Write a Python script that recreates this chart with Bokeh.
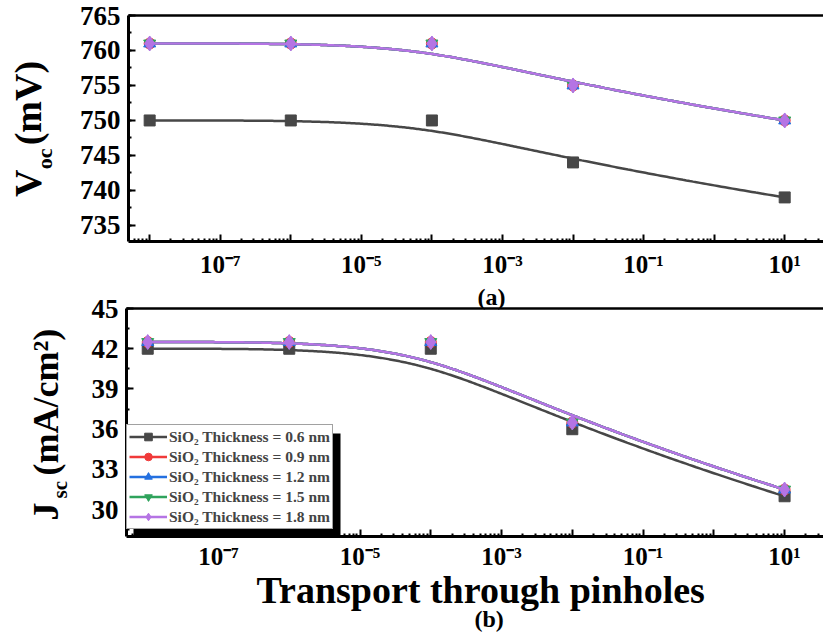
import numpy as np
from bokeh.plotting import figure
from bokeh.layouts import column, row
from bokeh.models import (Range1d, LogAxis, FixedTicker, SingleIntervalTicker,
                          CustomJSTickFormatter, Label, Legend, LegendItem,
                          BoxAnnotation, Title)
from bokeh.embed import file_html
from bokeh.resources import INLINE

# ---- data -------------------------------------------------------------
pinhole_transport = [1e-8, 1e-6, 1e-4, 1e-2, 1e1]
thickness_labels = ["SiO\u2082 Thickness = 0.6 nm", "SiO\u2082 Thickness = 0.9 nm",
                    "SiO\u2082 Thickness = 1.2 nm", "SiO\u2082 Thickness = 1.5 nm",
                    "SiO\u2082 Thickness = 1.8 nm"]
voc_06 = [750, 750, 750, 744, 739]
voc_09 = [761, 761, 761, 755, 750]
voc_12 = [761, 761, 761, 755, 750]
voc_15 = [761, 761, 761, 755, 750]
voc_18 = [761, 761, 761, 755, 750]
jsc_06 = [42.0, 42.0, 42.0, 36.0, 31.0]
jsc_09 = [42.5, 42.5, 42.5, 36.5, 31.5]
jsc_12 = [42.5, 42.5, 42.5, 36.5, 31.5]
jsc_15 = [42.5, 42.5, 42.5, 36.5, 31.5]
jsc_18 = [42.5, 42.5, 42.5, 36.5, 31.5]
label_ticks = [1e-7, 1e-5, 1e-3, 1e-1, 1e1]
label_texts = ["10\u207b\u2077", "10\u207b\u2075", "10\u207b\u00b3", "10\u207b\u00b9", "10\u00b9"]

colors = ["#474747", "#f03a3a", "#2470e0", "#2fa35c", "#b574e4"]
markers = ["square", "circle", "triangle", "inverted_triangle", "diamond"]
msizes = [11, 11, 12, 12, 15]
FONT = "Liberation Serif"
LABEL_W = 76                 # strip carrying the rotated y titles
TOP_H, BOT_H = 280, 357
TOP_BORDERS = (15, 37)       # (top, bottom) borders of panel (a)
BOT_BORDERS = (28, 101)      # (top, bottom) borders of panel (b)
FRAME_H = 228


def bspline(xs, ys, n=300):
    """Clamped cubic B-spline using the points as control polygon (log-x)."""
    P = np.column_stack([np.log10(xs), ys]).astype(float)
    m, k = len(P), 3
    inner = np.linspace(0, 1, m - k + 1)[1:-1]
    t = np.concatenate([[0] * (k + 1), inner, [1] * (k + 1)])
    u = np.linspace(0, 1, n)
    u[-1] = 1 - 1e-12

    def N(i, p, uu):
        if p == 0:
            return np.where((t[i] <= uu) & (uu < t[i + 1]), 1.0, 0.0)
        a = 0.0 if t[i + p] == t[i] else (uu - t[i]) / (t[i + p] - t[i]) * N(i, p - 1, uu)
        b = 0.0 if t[i + p + 1] == t[i + 1] else (t[i + p + 1] - uu) / (t[i + p + 1] - t[i + 1]) * N(i + 1, p - 1, uu)
        return a + b

    B = np.array([N(i, k, u) for i in range(m)])
    C = B.T @ P
    return 10 ** C[:, 0], C[:, 1]


decades = [10.0 ** e for e in range(-9, 3)]
minors = [m * d for d in decades for m in range(2, 10)]

x_fmt = CustomJSTickFormatter(args=dict(pos=label_ticks, lab=label_texts), code="""
    for (let i = 0; i < pos.length; i++) {
        if (Math.abs(Math.log10(tick) - Math.log10(pos[i])) < 1e-6) return lab[i];
    }
    return "";
""")


def title_strip(height, borders, parts):
    """Narrow blank plot whose frame lines up with the panel's frame; it holds
    a rotated, mixed-size axis title. Positions are px from the frame bottom."""
    s = figure(width=LABEL_W, height=height, x_range=Range1d(0, LABEL_W),
               y_range=Range1d(0, FRAME_H), x_axis_location=None, y_axis_location=None,
               output_backend="svg", toolbar_location=None,
               min_border_left=0, min_border_right=0,
               min_border_top=borders[0], min_border_bottom=borders[1])
    s.outline_line_color = None
    s.xgrid.visible = False
    s.ygrid.visible = False
    for txt, baseline_x, y, size in parts:
        s.add_layout(Label(x=baseline_x - 0.42 * size, y=y, text=txt, angle=np.pi / 2,
                           text_font=FONT, text_font_style="bold",
                           text_font_size=f"{size}px", text_color="black",
                           text_align="left", text_baseline="alphabetic"))
    return s


def side_title(p, txt, size, offset, where="below", standoff=0):
    p.add_layout(Title(text=txt, align="left", offset=offset, standoff=standoff,
                       text_font=FONT, text_font_style="bold", text_font_size=size,
                       text_color="black"), where)


def make_panel(height, borders, yrange, yinterval, series, with_legend, xstandoff):
    p = figure(width=823 - LABEL_W, height=height, x_axis_type="log",
               x_range=Range1d(10 ** -8.3, 10 ** 1.55), y_range=Range1d(*yrange),
               output_backend="svg", toolbar_location=None,
               min_border_left=126 - LABEL_W, min_border_right=0,
               min_border_top=borders[0], min_border_bottom=borders[1])
    p.outline_line_color = None
    p.xgrid.visible = False
    p.ygrid.visible = False

    for ax in (p.xaxis[0], p.yaxis[0]):
        ax.axis_line_width = 3
        ax.axis_line_color = "black"
        ax.major_tick_in = 7
        ax.major_tick_out = 0
        ax.minor_tick_in = 3
        ax.minor_tick_out = 0
        ax.major_tick_line_width = 2
        ax.minor_tick_line_width = 2
        ax.major_tick_line_color = "black"
        ax.minor_tick_line_color = "black"
        ax.major_label_text_font = FONT
        ax.major_label_text_font_style = "bold"
        ax.major_label_text_color = "black"

    p.xaxis[0].ticker = FixedTicker(ticks=decades, minor_ticks=minors)
    p.xaxis[0].formatter = x_fmt
    p.xaxis[0].major_label_text_font_size = "25px"
    p.xaxis[0].major_label_standoff = xstandoff
    p.yaxis[0].ticker = SingleIntervalTicker(interval=yinterval, num_minor_ticks=2)
    p.yaxis[0].major_label_text_font_size = "27px"
    p.yaxis[0].major_label_standoff = 8

    top_axis = LogAxis(ticker=FixedTicker(ticks=[]), axis_line_width=2.5,
                       axis_line_color="black", major_label_text_font_size="0px",
                       major_label_standoff=0,
                       major_tick_in=0, major_tick_out=0, minor_tick_in=0, minor_tick_out=0)
    p.add_layout(top_axis, "above")

    items = []
    for ys, c, mk, ms, lab in zip(series, colors, markers, msizes, thickness_labels):
        cx, cy = bspline(pinhole_transport, ys)
        lr = p.line(cx, cy, line_color=c, line_width=2.5)
        sr = p.scatter(pinhole_transport, ys, marker=mk, size=ms, fill_color=c, line_color=c)
        items.append(LegendItem(label=lab, renderers=[lr, sr]))

    if with_legend:
        shadow = BoxAnnotation(left=7, right=214, bottom=0, top=103,
                               left_units="screen", right_units="screen",
                               top_units="screen", bottom_units="screen",
                               fill_color="black", fill_alpha=1.0, line_color=None)
        p.add_layout(shadow)
        leg = Legend(items=items, location=(0, 7), margin=0, padding=2, spacing=1,
                     glyph_width=38, glyph_height=19, label_standoff=2,
                     label_text_font=FONT, label_text_font_style="bold",
                     label_text_font_size="15.5px", label_height=19,
                     border_line_color="#444444", border_line_width=1,
                     background_fill_color="white", background_fill_alpha=1.0)
        p.add_layout(leg, "center")
    return p


# (a) open-circuit voltage
top = make_panel(TOP_H, TOP_BORDERS, (732.7, 765), 5,
                 [voc_06, voc_09, voc_12, voc_15, voc_18], False, 9)
top_strip = title_strip(TOP_H, TOP_BORDERS, [("V", 43, 243 - 198, 38),
                                             ("oc", 53, 243 - 170, 22),
                                             ("(mV)", 43, 243 - 146, 38)])

# (b) short-circuit current density
bottom = make_panel(BOT_H, BOT_BORDERS, (28.0, 45), 3,
                    [jsc_06, jsc_09, jsc_12, jsc_15, jsc_18], True, 6)
side_title(bottom, "(a)", "24px", 351, where="above", standoff=-3)
side_title(bottom, "Transport through pinholes", "38px", 130, standoff=-11)
side_title(bottom, "(b)", "24px", 348, standoff=-4)
bot_strip = title_strip(BOT_H, BOT_BORDERS, [("J", 61, 536 - 520, 36),
                                             ("sc", 68, 536 - 498, 21),
                                             ("(mA/cm\u00b2)", 61, 536 - 475, 36)])

layout = column(row(top_strip, top, spacing=0), row(bot_strip, bottom, spacing=0),
                spacing=0)
open("out.html", "w").write(file_html(layout, INLINE))
